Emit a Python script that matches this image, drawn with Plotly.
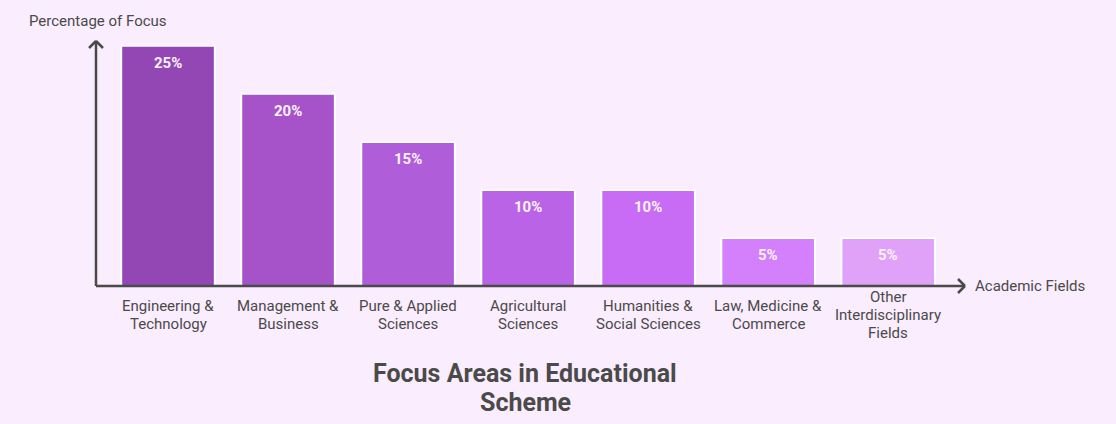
import plotly.graph_objects as go

# data
fields = [
    "Engineering &<br>Technology",
    "Management &<br>Business",
    "Pure & Applied<br>Sciences",
    "Agricultural<br>Sciences",
    "Humanities &<br>Social Sciences",
    "Law, Medicine &<br>Commerce",
    "Other<br>Interdisciplinary<br>Fields",
]
shares = [25, 20, 15, 10, 10, 5, 5]
bar_colors = ["#9247b4", "#a653ca", "#b05dd9", "#ba63e6", "#c86cf5", "#d47ffc", "#e0a2f9"]
title_lines = ["Focus Areas in Educational", "Scheme"]

BG = "#faedfd"
INK = "#4a4a4a"
FONT = "Roboto"


def stacked_lines(lines, step):
    """offsets (px) that centre a block of lines on one point"""
    n = len(lines)
    return [((n - 1) / 2 - k) * step for k in range(n)]


fig = go.Figure()

fig.add_trace(
    go.Bar(
        x=fields,
        y=shares,
        width=0.78,
        marker=dict(color=bar_colors, line=dict(color="white", width=2)),
        hoverinfo="skip",
    )
)

annotations = []
# value labels near the top of each bar
for f, v in zip(fields, shares):
    annotations.append(
        dict(
            x=f, y=v, xref="x", yref="y", text=f"<b>{v}%</b>", showarrow=False,
            yanchor="middle", yshift=-17,
            font=dict(family=FONT, size=15, color="#fbf2fd"),
        )
    )
# category labels, one annotation per line so the spacing can be tight
for f in fields:
    lines = f.split("<br>")
    for line, off in zip(lines, stacked_lines(lines, 18)):
        annotations.append(
            dict(
                x=f, y=-0.118, xref="x", yref="paper", text=line, showarrow=False,
                yanchor="middle", yshift=off,
                font=dict(family=FONT, size=15, color=INK),
            )
        )

for line, off in zip(title_lines, stacked_lines(title_lines, 29)):
    annotations.append(
        dict(x=0.4937, y=-0.418, xref="paper", yref="paper", xanchor="center",
             yanchor="middle", yshift=off, text=f"<b>{line}</b>", showarrow=False,
             font=dict(family=FONT, size=25, color=INK))
    )

annotations += [
    dict(x=1, y=0, xref="paper", yref="paper", xanchor="left", yanchor="middle",
         xshift=8, text="Academic Fields", showarrow=False,
         font=dict(family=FONT, size=15, color=INK)),
    dict(x=-0.0794, y=1, xref="paper", yref="paper", xanchor="left", yanchor="middle",
         yshift=20, text="Percentage of Focus", showarrow=False,
         font=dict(family=FONT, size=15, color=INK)),
]

# axis lines with open arrow heads
ax = dict(type="line", xref="paper", yref="paper", line=dict(color=INK, width=2.5))
dx, dy = 7 / 869, 7 / 245
shapes = [
    dict(ax, x0=0, y0=0, x1=1, y1=0),
    dict(ax, x0=1 - dx, y0=dy, x1=1, y1=0),
    dict(ax, x0=1 - dx, y0=-dy, x1=1, y1=0),
    dict(ax, x0=0, y0=0, x1=0, y1=1),
    dict(ax, x0=-dx, y0=1 - dy, x1=0, y1=1),
    dict(ax, x0=dx, y0=1 - dy, x1=0, y1=1),
]

fig.update_layout(
    width=1116,
    height=424,
    margin=dict(l=96, r=151, t=41, b=138),
    paper_bgcolor=BG,
    plot_bgcolor=BG,
    showlegend=False,
    xaxis=dict(range=[-0.6, 6.64], showticklabels=False, showgrid=False,
               zeroline=False, showline=False, fixedrange=True),
    yaxis=dict(range=[0, 25.5], showticklabels=False, showgrid=False,
               zeroline=False, showline=False, fixedrange=True),
    annotations=annotations,
    shapes=shapes,
    font=dict(family=FONT, color=INK),
)

# drop the default page margin so the chart fills the window
fig.write_html(
    "out.html",
    config={"displayModeBar": False},
    post_script="document.body.style.margin='0';",
)
